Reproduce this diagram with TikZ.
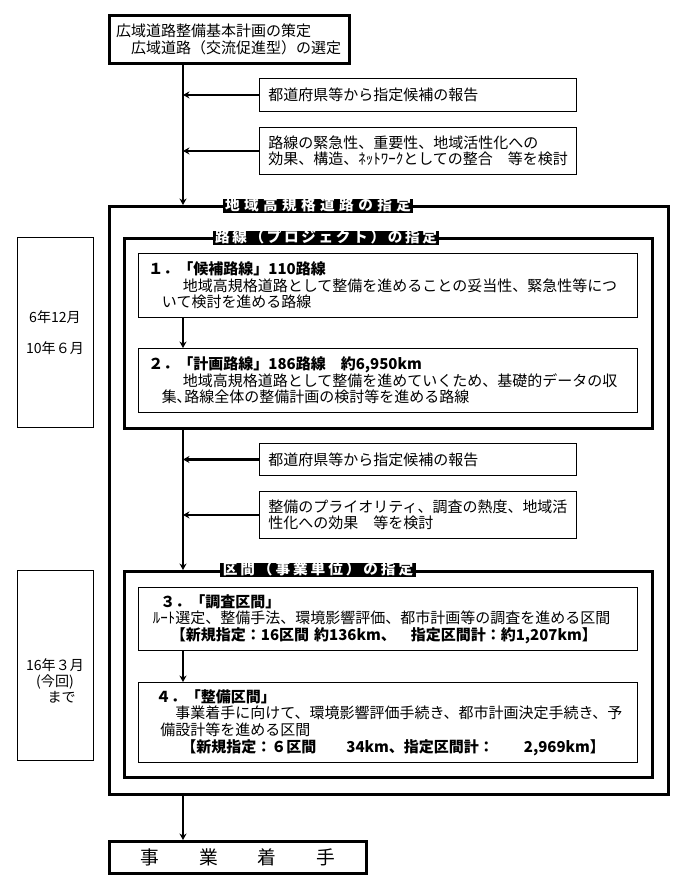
\documentclass[tikz,border=0pt]{standalone}
\usepackage{fontspec}
\setmainfont{Noto Sans CJK JP}
\usetikzlibrary{arrows.meta, positioning}
\tikzstyle{topbox} = [rectangle, draw=black, line width=2.4pt, anchor=north west, align=left, inner xsep=0.2cm, font=\fontsize{12.8}{14.2}\selectfont]
\tikzstyle{stepbox} = [rectangle, draw=black, line width=0.8pt, anchor=north west, align=left, inner xsep=0.3cm, font=\fontsize{12.8}{14.2}\selectfont]
\tikzstyle{notebox} = [rectangle, draw=black, line width=0.8pt, anchor=north west, align=left, inner xsep=0.27cm, minimum width=9.51cm, text width=8.97cm, font=\fontsize{12.8}{14.2}\selectfont]
\tikzstyle{frame} = [rectangle, draw=black, line width=2.4pt, anchor=north west, minimum width=15.84cm]
\tikzstyle{framelabel} = [fill=black, text=white, inner xsep=2pt, inner ysep=0pt, text height=9.5pt, text depth=2pt]
\tikzstyle{datebox} = [rectangle, draw=black, line width=0.8pt, anchor=north west, minimum width=2.28cm, minimum height=5.7cm]
\tikzstyle{datetext} = [align=center, font=\fontsize{12}{13.9}\selectfont]
\tikzstyle{arrow} = [line width=2.4pt,-{Stealth[length=5.5pt,width=6pt]}]

\begin{document}
\begin{tikzpicture}[x=0.3mm, y=-0.3mm]
    \useasboundingbox (0,0) rectangle (687,889);
    \coordinate (spine) at (183,0);

    % planning stage
    \node (plan) [topbox, minimum width=7.2cm, minimum height=1.44cm, text width=6.8cm] at (108,14) {広域道路整備基本計画の策定\\\hspace*{1em}広域道路（交流促進型）の選定};
    \node (report1) [notebox, minimum height=0.99cm] at (259,78) {都道府県等から指定候補の報告};
    \node (check1) [notebox, minimum height=1.41cm] at (259,127) {路線の緊急性、重要性、地域活性化への\\効果、構造、ﾈｯﾄﾜｰｸとしての整合　等を検討};

    % designation frames
    \node (outer) [frame, minimum width=16.77cm, minimum height=17.64cm] at (108,205) {};
    \node (outertitle) [framelabel, font={\fontsize{12.5}{14}\selectfont\bfseries\addfontfeatures{LetterSpace=30}}] at (318,206) {地域高規格道路の指定};
    \node (route) [frame, minimum height=5.7cm] at (123,237) {};
    \node (routetitle) [framelabel, font={\fontsize{12.5}{14}\selectfont\bfseries\addfontfeatures{LetterSpace=18}}] at (326,238) {路線（プロジェクト）の指定};
    \node (section) [frame, minimum height=6.18cm] at (123,570) {};
    \node (sectiontitle) [framelabel, font={\fontsize{12.5}{14}\selectfont\bfseries\addfontfeatures{LetterSpace=20}}] at (318,570) {区間（事業単位）の指定};

    \node (cand) [stepbox, minimum width=14.97cm, minimum height=1.92cm, text width=14.37cm] at (138,253) {{\bfseries １．「候補路線」110路線}\\\hspace*{2.3em}地域高規格道路として整備を進めることの妥当性、緊急性等につ\\\hspace*{0.9em}いて検討を進める路線};
    \node (plan2) [stepbox, minimum width=14.97cm, minimum height=1.92cm, text width=14.37cm] at (138,348) {{\bfseries ２．「計画路線」186路線　約6,950km}\\\hspace*{2.3em}地域高規格道路として整備を進めていくため、基礎的データの収\\\hspace*{0.9em}集､路線全体の整備計画の検討等を進める路線};

    \node (report2) [notebox, minimum height=0.96cm] at (259,443) {都道府県等から指定候補の報告};
    \node (check2) [notebox, minimum height=1.41cm] at (259,491) {整備のプライオリティ、調査の熱度、地域活\\性化への効果　等を検討};

    \node (survey) [stepbox, minimum width=14.97cm, minimum height=1.89cm, text width=14.37cm] at (138,587) {\hspace*{0.8em}{\bfseries ３．「調査区間」}\\\hspace*{0.3em}ﾙｰﾄ選定、整備手法、環境影響評価、都市計画等の調査を進める区間\\\hspace*{1.5em}{\bfseries 【新規指定：16区間 約136km、　指定区間計：約1,207km】}};
    \node (build) [stepbox, minimum width=14.97cm, minimum height=2.4cm, text width=14.37cm] at (138,682) {\hspace*{0.5em}{\bfseries ４．「整備区間」}\\\hspace*{1.8em}事業着手に向けて、環境影響評価手続き、都市計画決定手続き、予\\\hspace*{0.8em}備設計等を進める区間\\\hspace*{2.2em}{\bfseries 【新規指定：６区間　　34km、指定区間計：　　2,969km】}};

    \node (start) [topbox, align=center, minimum width=7.71cm, minimum height=0.96cm, font=\fontsize{16}{18}\selectfont] at (108,840) {事\hspace{1.2cm}業\hspace{1.2cm}着\hspace{1.2cm}手};

    % dates
    \node (date1) [datebox] at (17,237) {};
    \node (date1text) [datetext] at (55,333) {6年12月\\[0.44cm]10年６月};
    \node (date2) [datebox] at (17,570) {};
    \node (date2text) [datetext] at (55,681) {16年３月\\(今回)\hspace*{0.4cm}\\\hspace*{0.4cm}まで};

    \draw [arrow] (plan.south -| spine) -- (outer.north -| spine);
    \draw [arrow] (report1.west) -- (report1.west -| spine);
    \draw [arrow] (check1.west) -- (check1.west -| spine);
    \draw [arrow] (cand.south -| spine) -- (plan2.north -| spine);
    \draw [arrow] (route.south -| spine) -- (section.north -| spine);
    \draw [arrow] (report2.west) -- (report2.west -| spine);
    \draw [arrow] (check2.west) -- (check2.west -| spine);
    \draw [arrow] (survey.south -| spine) -- (build.north -| spine);
    \draw [arrow] (outer.south -| spine) -- (start.north -| spine);
\end{tikzpicture}
\end{document}
